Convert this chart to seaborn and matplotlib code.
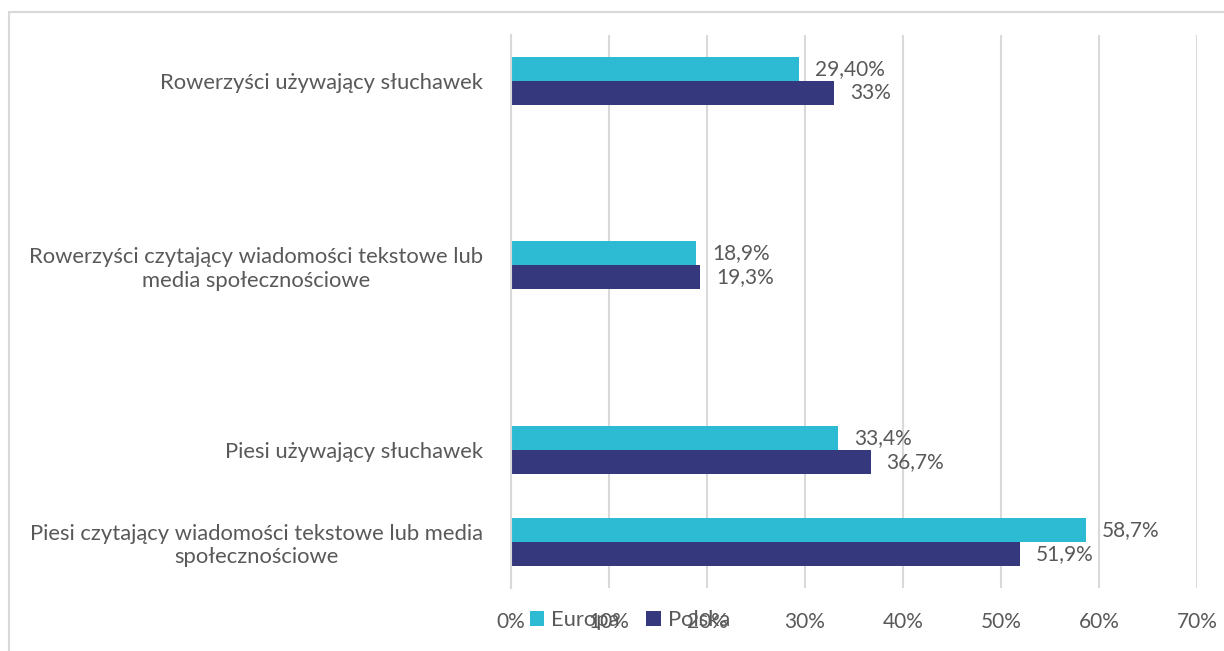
import matplotlib
matplotlib.use("Agg")
import matplotlib.pyplot as plt
import seaborn as sns
import pandas as pd
from matplotlib.patches import Rectangle, Patch

# ---- data ----
categories = [
    "Rowerzyści używający słuchawek",
    "Rowerzyści czytający wiadomości tekstowe lub\nmedia społecznościowe",
    "Piesi używający słuchawek",
    "Piesi czytający wiadomości tekstowe lub media\nspołecznościowe",
]
series = ["Europa", "Polska"]
europa = [29.4, 18.9, 33.4, 58.7]
polska = [33.0, 19.3, 36.7, 51.9]
europa_labels = ["29,40%", "18,9%", "33,4%", "58,7%"]
polska_labels = ["33%", "19,3%", "36,7%", "51,9%"]
x_ticks = [0, 10, 20, 30, 40, 50, 60, 70]
x_tick_labels = ["0%", "10%", "20%", "30%", "40%", "50%", "60%", "70%"]

# blank category slots (as in the original layout)
gap_names = ["_gap1", "_gap2"]
order = [categories[0], gap_names[0], categories[1], gap_names[1], categories[2], categories[3]]

colors = {"Europa": "#2DBBD4", "Polska": "#35387D"}
text_color = "#595959"
grid_color = "#D9D9D9"

df = pd.DataFrame({
    "kategoria": categories * 2,
    "seria": [series[0]] * 4 + [series[1]] * 4,
    "wartosc": europa + polska,
})

sns.set_style("white")
plt.rcParams["font.family"] = ["Lato", "DejaVu Sans"]
FS = 15
FS_CAT = 15.8

fig = plt.figure(figsize=(12.24, 6.51), dpi=100)
ax = fig.add_axes([511 / 1224, 1 - 588 / 651, (1197 - 511) / 1224, (588 - 35) / 651])

sns.barplot(data=df, y="kategoria", x="wartosc", hue="seria", order=order,
            hue_order=series, palette=colors, orient="h", width=0.52,
            saturation=1, ax=ax, legend=False, edgecolor="none", errorbar=None)

# value labels
label_sets = [europa_labels, polska_labels]
for cont, labs in zip(ax.containers, label_sets):
    bars = sorted([b for b in cont.patches], key=lambda b: b.get_y())
    for b, lab in zip(bars, labs):
        ax.annotate(lab, (b.get_width(), b.get_y() + b.get_height() / 2),
                    xytext=(11.5, 0), textcoords="offset points",
                    ha="left", va="center", fontsize=FS, color=text_color)

ax.set_xlim(0, 70)
ax.set_xticks(x_ticks)
ax.set_xticklabels(x_tick_labels)
ax.set_xlabel("")
ax.set_ylabel("")
ax.set_yticks(range(len(order)))
ax.set_yticklabels(["" if o in gap_names else o for o in order])
for t in ax.get_yticklabels():
    t.set_multialignment("center")
ax.tick_params(axis="y", length=0, pad=20, labelsize=FS_CAT, labelcolor=text_color)
ax.tick_params(axis="x", length=0, pad=17, labelsize=FS, labelcolor=text_color)

ax.grid(axis="x", color=grid_color, linewidth=1.5)
ax.grid(axis="y", visible=False)
ax.set_axisbelow(True)
for s in ["top", "right", "bottom"]:
    ax.spines[s].set_visible(False)
ax.spines["left"].set_color(grid_color)
ax.spines["left"].set_linewidth(1.5)

handles = [Patch(facecolor=colors[s], edgecolor="none") for s in series]
ax.legend(handles, series, loc="center", bbox_to_anchor=(630 / 1224, 1 - 620 / 651),
          bbox_transform=fig.transFigure, ncol=2, frameon=False,
          handlelength=0.65, handleheight=0.65, handletextpad=0.35,
          columnspacing=1.2, fontsize=FS_CAT, labelcolor=text_color)

# outer chart frame
fig.add_artist(Rectangle((9 / 1224, -0.2), 1.2, 1 - 12 / 651 + 0.2,
                         transform=fig.transFigure, fill=False,
                         edgecolor=grid_color, linewidth=1.5, clip_on=False))

fig.savefig("out.png", dpi=100)
